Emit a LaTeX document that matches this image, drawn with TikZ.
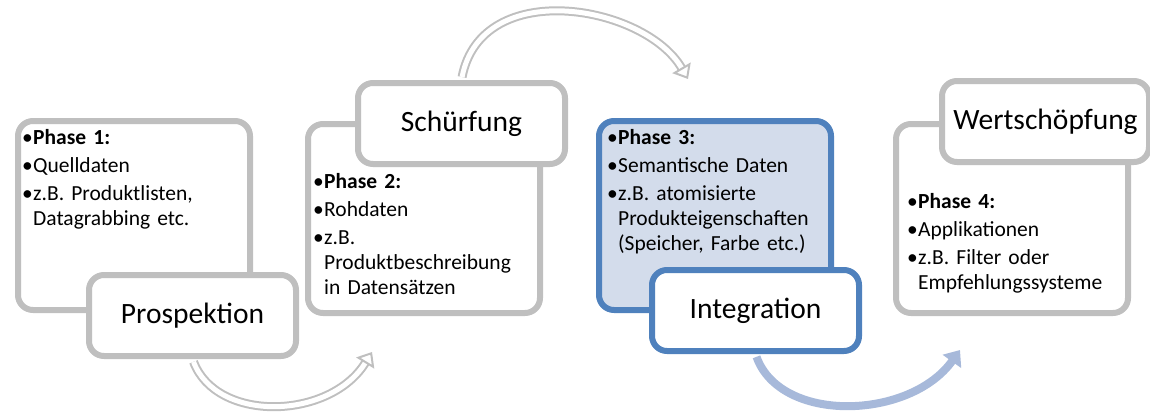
\documentclass[tikz,border=0pt]{standalone}
\usepackage{fontspec}
\setmainfont{Carlito}
\usetikzlibrary{arrows.meta}

\definecolor{boxgray}{HTML}{BFBFBF}
\definecolor{phaseblue}{HTML}{4F81BD}
\definecolor{phasefill}{HTML}{D3DCEB}
\definecolor{arrowblue}{HTML}{A7B9DA}

\newcommand{\pitem}[1]{\par\noindent\hbox to 11pt{\textbullet\hfil}\parbox[t]{210pt}{#1}}

\tikzset{
	phasebox/.style={draw=boxgray, line width=6pt, rounded corners=15pt, fill=white,
		anchor=north west, minimum width=232pt, minimum height=189pt},
	labelbox/.style={phasebox, minimum width=207pt, minimum height=81pt,
		font=\fontsize{29.5}{34}\selectfont},
	phasetext/.style={anchor=north west, inner sep=0pt, text width=225pt,
		font=\fontsize{21.5}{25}\selectfont\setlength{\parskip}{3pt}},
	hollowarrow/.style={draw=boxgray, line width=2pt, double=white, double distance=5pt,
		shorten <=3pt, -{Triangle[open, length=13pt, width=21pt, line width=2pt]}},
	bluearrow/.style={draw=arrowblue, line width=8pt, shorten <=3pt,
		-{Triangle[length=14pt, width=22pt]}}
}

\begin{document}
\begin{tikzpicture}[x=1pt, y=-1pt]
	\useasboundingbox (0,0) rectangle (1150,412);

	% Phase 1
	\node[phasebox] (box1) at (15,118) {};
	\node[phasetext] (txt1) at (22,116) {\pitem{\textbf{Phase 1:}}\pitem{Quelldaten}%
		\pitem{z.B. Produktlisten,\\Datagrabbing etc.}};
	\node[labelbox] (lab1) at (86,272) {Prospektion};

	% Phase 2
	\node[phasebox] (box2) at (305,121) {};
	\node[phasetext] (txt2) at (313,160) {\pitem{\textbf{Phase 2:}}\pitem{Rohdaten}%
		\pitem{z.B.\\Produktbeschreibung\\in Datensätzen}};
	\node[labelbox] (lab2) at (355,80) {Schürfung};

	% Phase 3
	\node[phasebox, draw=phaseblue, fill=phasefill] (box3) at (596,118) {};
	\node[phasetext] (txt3) at (607,116) {\pitem{\textbf{Phase 3:}}\pitem{Semantische Daten}%
		\pitem{z.B. atomisierte\\Produkteigenschaften\\(Speicher, Farbe etc.)}};
	\node[labelbox, draw=phaseblue] (lab3) at (649,267) {Integration};

	% Phase 4
	\node[phasebox] (box4) at (893,121) {};
	\node[phasetext] (txt4) at (907,180) {\pitem{\textbf{Phase 4:}}\pitem{Applikationen}%
		\pitem{z.B. Filter oder\\Empfehlungssysteme}};
	\node[labelbox] (lab4) at (939,78) {Wertschöpfung};

	% arrows
	\coordinate (tip1) at (372,352);
	\coordinate (tip2) at (688,79);
	\coordinate (tip3) at (960,350);
	\draw[hollowarrow] (lab1.south) .. controls +(24,64) and +(-42,68) .. (tip1);
	\draw[hollowarrow] (lab2.north) .. controls +(20,-104) and +(-43,-74) .. (tip2);
	\draw[bluearrow] (lab3.south) .. controls +(25,70) and +(-50,70) .. (tip3);
\end{tikzpicture}
\end{document}
